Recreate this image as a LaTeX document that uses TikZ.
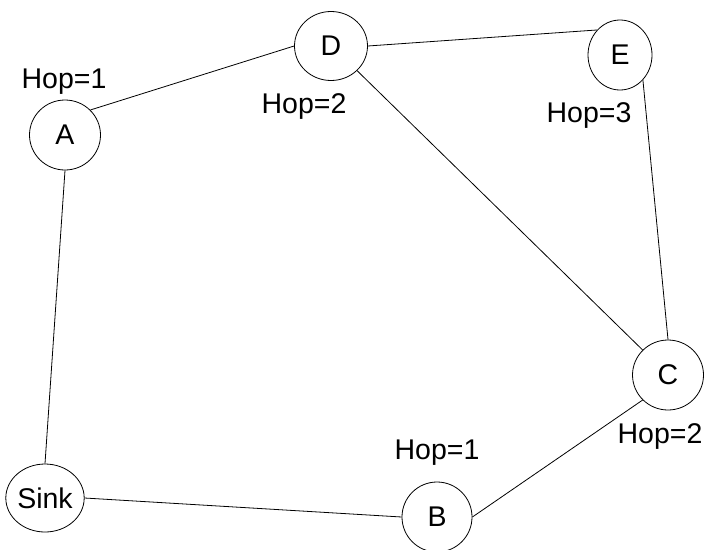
\documentclass[tikz,border=0pt]{standalone}
\usepackage{fontspec}
\setmainfont{Liberation Sans}
\usetikzlibrary{shapes.geometric}

\begin{document}
\begin{tikzpicture}[x=1pt, y=-1pt,
    station/.style={ellipse, draw, line width=0.8pt, inner sep=0pt, minimum width=71pt, minimum height=70pt, font=\fontsize{28.5}{33}\selectfont},
    hop/.style={inner sep=0pt, font=\fontsize{28.5}{33}\selectfont},
    link/.style={line width=0.8pt}]
      \useasboundingbox (0, 0) rectangle (708, 549);

      \node[station] (A) at (65, 135) {A};
      \node[station, minimum width=73pt, minimum height=69pt] (D) at (331, 46) {D};
      \node[station, minimum width=64pt, minimum height=70pt] (E) at (620, 55) {E};
      \node[station] (C) at (668, 375) {C};
      \node[station, minimum height=68pt] (Sink) at (45, 498) {Sink};
      \node[station, minimum width=70pt] (B) at (437, 517) {B};

      \node[hop] (hA) at (64, 82) {Hop=1};
      \node[hop] (hD) at (304, 107) {Hop=2};
      \node[hop] (hE) at (589, 116) {Hop=3};
      \node[hop] (hB) at (437, 453) {Hop=1};
      \node[hop] (hC) at (660, 436) {Hop=2};

      \draw[link] (A.north east) -- (D.west);
      \draw[link] (D.east) -- (E.north west);
      \draw[link] (D.south east) -- (C.north west);
      \draw[link] (E.south east) -- (C.north);
      \draw[link] (C.south west) -- (B.east);
      \draw[link] (B.west) -- (Sink.east);
      \draw[link] (Sink.north) -- (A.south);
    \end{tikzpicture}
\end{document}
